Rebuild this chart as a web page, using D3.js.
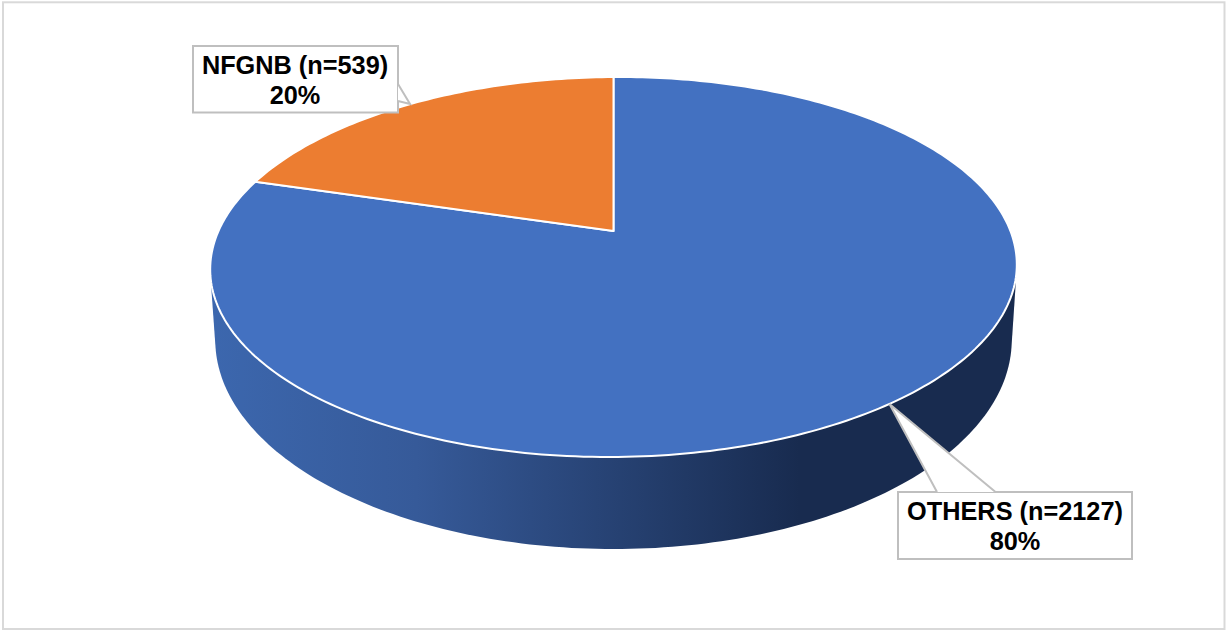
<!DOCTYPE html>
<html>
<head>
<meta charset="utf-8">
<title>NFGNB share</title>
<script src="https://cdn.jsdelivr.net/npm/d3@7"></script>
<style>
    html, body { margin: 0; padding: 0; background: #fff; overflow: hidden; }
    .callout-text { font-family: "Liberation Sans", Arial, sans-serif; font-weight: bold; font-size: 25.3px; fill: #000; text-anchor: middle; }
</style>
</head>
<body>
<script>
// chart data
var categories = ["OTHERS", "NFGNB"];
var counts = [2127, 539];
var percentLabels = ["80%", "20%"];
var sliceColors = ["#4371C1", "#EC7D31"];

var width = 1230,
    height = 632;

var svg = d3.select("body").append("svg")
    .attr("width", width)
    .attr("height", height)
    .style("display", "block");

// chart area border
svg.append("rect")
    .attr("x", 3).attr("y", 2.3)
    .attr("width", 1221.5).attr("height", 626.7)
    .attr("fill", "#fff")
    .attr("stroke", "#d9d9d9")
    .attr("stroke-width", 2);

/*
Perspective projection of the pie disc. v = 1 is the far rim, v = -1 the near one.
Same foreshortening for the top face and the bottom face of the cylinder.
The top face leans a little, left side lower than the right.
*/
var cx = 613.5,
    persp = 0.1895;
var topFace = { radius: 396, ya: -139.4, yb: 231, tilt: 0.006 },
    bottomFace = { radius: 391, ya: -144.6, yb: 300.4, tilt: 0 };

function project(face, r, angle) {
    var u = r * Math.sin(angle),
        v = r * Math.cos(angle),
        w = 1 + persp * v,
        x = face.radius * u / w;
    return [cx + x, (face.ya * v + face.yb) / w - face.tilt * x];
}

function ring(face) {
    return d3.range(0, 361, 1).map(function(deg) {
        return project(face, 1, deg * Math.PI / 180);
    });
}

// side wall is the hull of both rims, shaded from left to right
var defs = svg.append("defs");
var wallGradient = defs.append("linearGradient")
    .attr("id", "wall")
    .attr("gradientUnits", "userSpaceOnUse")
    .attr("x1", 210).attr("x2", 800)
    .attr("y1", 0).attr("y2", 0);
wallGradient.append("stop").attr("offset", "0%").attr("stop-color", "#3c67ae");
wallGradient.append("stop").attr("offset", "35%").attr("stop-color", "#365a99");
wallGradient.append("stop").attr("offset", "100%").attr("stop-color", "#182b4f");

var line = d3.line();

svg.append("path")
    .attr("d", line(d3.polygonHull(ring(topFace).concat(ring(bottomFace)))) + "Z")
    .attr("fill", "url(#wall)");

// top face slices
var pie = d3.pie().sort(null)(counts);

svg.selectAll(".slice")
    .data(pie)
    .enter().append("path")
    .attr("class", "slice")
    .attr("d", function(d) {
        var steps = Math.ceil((d.endAngle - d.startAngle) * 180 / Math.PI),
            pts = [project(topFace, 0, 0)];
        d3.range(steps + 1).forEach(function(i) {
            pts.push(project(topFace, 1, d.startAngle + (d.endAngle - d.startAngle) * i / steps));
        });
        return line(pts) + "Z";
    })
    .attr("fill", function(d, i) { return sliceColors[i]; })
    .attr("stroke", "#fff")
    .attr("stroke-width", 2)
    .attr("stroke-linejoin", "round");

// data label callouts, OTHERS first so the order matches categories
var callouts = [
    { box: [898, 492, 234, 67], pointer: [[937, 492], [889.5, 404], [995.5, 492]], textX: 1015, textY: 520 },
    { box: [193, 46, 205, 66.5], pointer: [[398, 84], [410, 104], [398, 101]], textX: 295, textY: 74 }
];

callouts.forEach(function(c, i) {
    var b = c.box;
    var outline = [[b[0], b[1]], [b[0] + b[2], b[1]], [b[0] + b[2], b[1] + b[3]], [b[0], b[1] + b[3]]];
    var g = svg.append("g");
    g.append("path")
        .attr("d", line(outline) + "Z")
        .attr("fill", "#fff")
        .attr("stroke", "#bfbfbf")
        .attr("stroke-width", 2);
    g.append("path")
        .attr("d", line(c.pointer))
        .attr("fill", "#fff")
        .attr("stroke", "#bfbfbf")
        .attr("stroke-width", 2);
    g.append("text").attr("class", "callout-text")
        .attr("x", c.textX).attr("y", c.textY)
        .text(categories[i] + " (n=" + counts[i] + ")");
    g.append("text").attr("class", "callout-text")
        .attr("x", c.textX).attr("y", c.textY + 30)
        .text(percentLabels[i]);
});
</script>
</body>
</html>
